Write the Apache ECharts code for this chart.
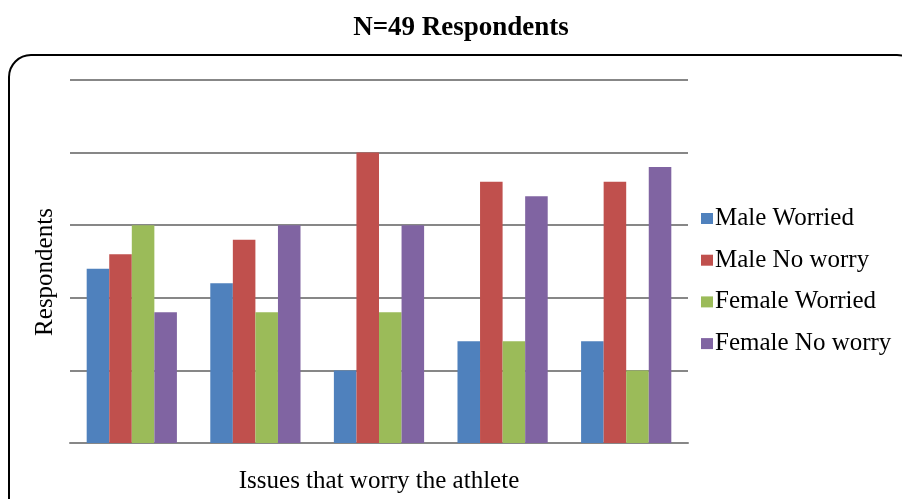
<!DOCTYPE html>
<html>
<head>
<meta charset="utf-8">
<script src="https://cdn.jsdelivr.net/npm/echarts@6/dist/echarts.min.js"></script>
<style>
  html, body { margin: 0; padding: 0; background: #fff; }
  #chart { width: 902px; height: 499px; }
</style>
</head>
<body>
<div id="chart"></div>
<script>
// Five worry issues (unlabelled categories on the x axis)
const categories = ['1', '2', '3', '4', '5'];

// Respondent counts per group
const maleWorried     = [12, 11, 5, 7, 7];
const maleNoWorry     = [13, 14, 20, 18, 18];
const femaleWorried   = [15, 9, 9, 7, 5];
const femaleNoWorry   = [9, 15, 15, 17, 19];

const seriesNames = ['Male Worried', 'Male No worry', 'Female Worried', 'Female No worry'];
const seriesColors = ['#4f81bd', '#c0504d', '#9bbb59', '#8064a2'];
const seriesValues = [maleWorried, maleNoWorry, femaleWorried, femaleNoWorry];

const serif = '"Liberation Serif", "DejaVu Serif", serif';

const chart = echarts.init(document.getElementById('chart'), null, { renderer: 'canvas' });

chart.setOption({
  animation: false,
  backgroundColor: '#ffffff',
  title: {
    text: 'N=49 Respondents',
    left: 456,
    top: 10,
    textAlign: 'center',
    textStyle: { fontFamily: serif, fontSize: 27, fontWeight: 'bold', color: '#000' }
  },
  graphic: [{
    type: 'rect',
    shape: { x: 9, y: 55, width: 910, height: 480, r: 22 },
    style: { fill: 'none', stroke: '#000', lineWidth: 2 },
    z: -1
  }, {
    // vertical axis title, placed slightly below the plot centre
    type: 'text',
    x: 45,
    y: 272,
    rotation: Math.PI / 2,
    style: {
      text: 'Respondents',
      font: '25px ' + serif,
      fill: '#000',
      align: 'center',
      verticalAlign: 'middle'
    }
  }],
  legend: {
    orient: 'vertical',
    left: 696,
    top: 201,
    itemWidth: 12,
    itemHeight: 11,
    itemGap: 16.7,
    icon: 'rect',
    textStyle: { fontFamily: serif, fontSize: 25, color: '#000', lineHeight: 25, padding: [0, 0, 0, -3] },
    data: seriesNames
  },
  grid: { left: 70, right: 214, top: 80, bottom: 55 },
  xAxis: {
    type: 'category',
    data: categories,
    name: 'Issues that worry the athlete',
    nameLocation: 'middle',
    nameGap: 26,
    nameTextStyle: { fontFamily: serif, fontSize: 25, color: '#000' },
    axisLine: { lineStyle: { color: '#878787', width: 2 } },
    axisTick: { show: false },
    axisLabel: { show: false }
  },
  yAxis: {
    type: 'value',
    min: 0,
    max: 25,
    interval: 5,
    axisLine: { show: false },
    axisTick: { show: false },
    axisLabel: { show: false },
    splitLine: { lineStyle: { color: '#878787', width: 2 } }
  },
  series: seriesNames.map((name, i) => ({
    name: name,
    type: 'bar',
    data: seriesValues[i],
    barGap: '0%',
    barCategoryGap: '27%',
    itemStyle: { color: seriesColors[i] }
  }))
});
</script>
</body>
</html>
